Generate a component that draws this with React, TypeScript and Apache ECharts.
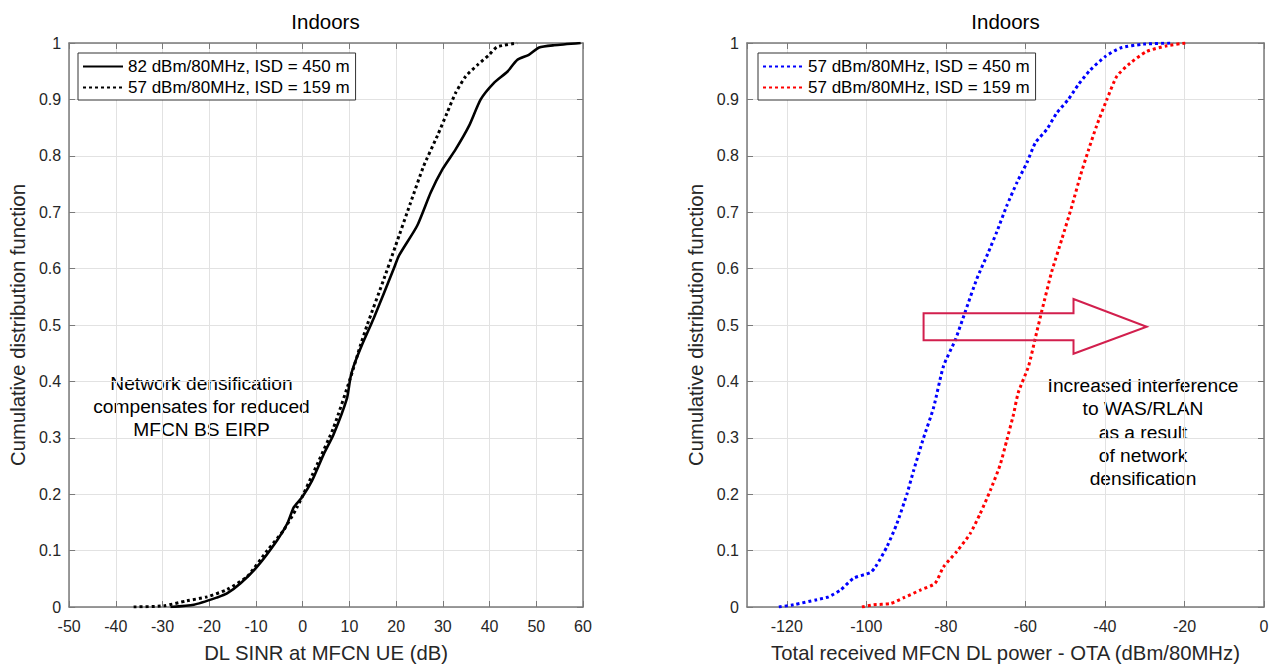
import React, { useEffect, useRef } from "react";
import * as echarts from "echarts";

// ---------- Data ----------
// Left panel: DL SINR at MFCN UE (dB) vs CDF
const sinr82x450X = [-28.3, -23.3, -18.3, -16.2, -13.3, -9.8, -5.5, -3.3, -1.9, -0.1, 2.0, 4.5, 6.6, 9.5, 10.2, 10.9, 12.7, 15.2, 19.5, 20.6, 24.5, 27.4, 29.9, 32.7, 35.6, 38.1, 40.9, 43.8, 45.9, 48.4, 50.6, 53.8, 59.5];
const sinr82x450Cdf = [0, 0.004, 0.017, 0.024, 0.042, 0.071, 0.118, 0.148, 0.177, 0.195, 0.224, 0.271, 0.306, 0.371, 0.406, 0.427, 0.465, 0.512, 0.6, 0.623, 0.676, 0.735, 0.776, 0.811, 0.853, 0.9, 0.929, 0.949, 0.97, 0.979, 0.992, 0.996, 1.0];
const sinr57x159X = [-36.2, -29.8, -24.8, -20.5, -16.2, -11.9, -7.6, -4.1, -1.2, 3.1, 6.6, 10.2, 12.4, 13.8, 17.4, 19.9, 23.1, 25.9, 28.8, 30.9, 32.7, 34.9, 37.4, 39.9, 41.6, 45.9];
const sinr57x159Cdf = [0, 0.002, 0.011, 0.018, 0.031, 0.054, 0.1, 0.136, 0.177, 0.253, 0.318, 0.406, 0.465, 0.5, 0.582, 0.641, 0.717, 0.782, 0.835, 0.876, 0.911, 0.941, 0.961, 0.979, 0.993, 1.0];

// Right panel: Total received MFCN DL power - OTA (dBm/80MHz) vs CDF
const pow450X = [-122, -118.3, -112.4, -109.5, -106.5, -103.2, -99, -97.7, -94.8, -92.3, -89.8, -88.1, -85.6, -83.1, -80.6, -77.6, -75.1, -72.2, -69.3, -67.2, -64.7, -62.1, -59.6, -57.5, -54.6, -52.1, -49.2, -46.7, -43.7, -39.9, -36.2, -30.3, -22.8];
const pow450Cdf = [0, 0.004, 0.013, 0.018, 0.03, 0.051, 0.061, 0.071, 0.107, 0.148, 0.2, 0.242, 0.3, 0.353, 0.427, 0.474, 0.524, 0.582, 0.629, 0.665, 0.711, 0.753, 0.788, 0.823, 0.847, 0.876, 0.9, 0.926, 0.952, 0.976, 0.991, 0.998, 1.0];
const pow159X = [-101.1, -98.2, -94, -90.7, -86.4, -82.7, -80.6, -77.3, -73.9, -71.4, -68.8, -66.3, -64.7, -63.0, -61.8, -59.2, -57.5, -55.9, -53.4, -50.8, -48.3, -46.2, -44.1, -42.1, -39.5, -37.0, -33.7, -29.5, -24.4, -19.8];
const pow159Cdf = [0, 0.004, 0.006, 0.016, 0.03, 0.042, 0.071, 0.098, 0.13, 0.165, 0.207, 0.253, 0.295, 0.341, 0.38, 0.427, 0.477, 0.524, 0.594, 0.653, 0.711, 0.764, 0.811, 0.853, 0.9, 0.941, 0.964, 0.985, 0.995, 1.0];

const leftNames = ["82 dBm/80MHz, ISD = 450 m", "57 dBm/80MHz, ISD = 159 m"];
const rightNames = ["57 dBm/80MHz, ISD = 450 m", "57 dBm/80MHz, ISD = 159 m"];

const titleText = "Indoors";
const yName = "Cumulative distribution function";
const leftXName = "DL SINR at MFCN UE (dB)";
const rightXName = "Total received MFCN DL power - OTA (dBm/80MHz)";
const leftNote = "Network densification\ncompensates for reduced\nMFCN BS EIRP";
const rightNote = "Increased interference\nto WAS/RLAN\nas a result\nof network\ndensification";

// Arrow annotation outline in data units (x, cdf)
const arrowXs = [-85.6, -47.9, -29.5];
const arrowYs = [0.449, 0.473, 0.497, 0.521, 0.546];

// ---------- Styling ----------
const FONT = "'Liberation Sans', Arial, Helvetica, sans-serif";
const TXT = "#262626";
const AXC = "#7a7a7a";
const GRIDC = "#e2e2e2";

const zip = (xs: number[], ys: number[]) => xs.map((x, i) => [x, ys[i]]);

function buildAxes(grid: any, xMin: number, xMax: number, xOpts: any, xName: string) {
  const axLine = { show: true, onZero: false, lineStyle: { color: AXC, width: 1.5 } };
  const tick = { show: true, inside: true, length: 6, lineStyle: { color: AXC, width: 1 } };
  const { axisLabel: xLab, ...xRest } = xOpts;
  return {
    grid,
    xAxis: [
      {
        type: "value",
        min: xMin,
        max: xMax,
        ...xRest,
        position: "bottom",
        name: xName,
        nameLocation: "middle",
        nameGap: 36,
        nameTextStyle: { fontSize: 20.3, color: TXT, fontFamily: FONT },
        axisLine: axLine,
        axisTick: tick,
        axisLabel: { fontSize: 16, color: TXT, margin: 11, fontFamily: FONT, ...(xLab || {}) },
        splitLine: { show: true, lineStyle: { color: GRIDC, width: 1 } },
      },
      {
        type: "value",
        min: xMin,
        max: xMax,
        ...xRest,
        position: "top",
        axisLine: axLine,
        axisTick: tick,
        axisLabel: { show: false },
        splitLine: { show: false },
      },
    ],
    yAxis: [
      {
        type: "value",
        min: 0,
        max: 1,
        interval: 0.1,
        position: "left",
        name: yName,
        nameLocation: "middle",
        nameGap: 39,
        nameTextStyle: { fontSize: 20.3, color: TXT, fontFamily: FONT },
        axisLine: axLine,
        axisTick: tick,
        axisLabel: {
          fontSize: 16,
          color: TXT,
          margin: 8,
          fontFamily: FONT,
          formatter: (v: number) => String(Math.round(v * 10) / 10),
        },
        splitLine: { show: true, lineStyle: { color: GRIDC, width: 1 } },
      },
      {
        type: "value",
        min: 0,
        max: 1,
        interval: 0.1,
        position: "right",
        axisLine: axLine,
        axisTick: tick,
        axisLabel: { show: false },
        splitLine: { show: false },
      },
    ],
  };
}

function legendOf(names: string[], left: number) {
  return {
    orient: "vertical",
    left,
    top: 53,
    data: names,
    itemWidth: 40,
    itemHeight: 14,
    itemGap: 4,
    padding: [5, 6, 4, 4],
    borderColor: "#333",
    borderWidth: 1,
    borderRadius: 0,
    backgroundColor: "#ffffff",
    selectedMode: false,
    itemStyle: { opacity: 0 },
    textStyle: { fontSize: 17, color: "#000", fontFamily: FONT },
  };
}

function lineSeries(name: string, data: number[][], color: string, dotted: boolean) {
  return {
    type: "line",
    name,
    data,
    xAxisIndex: 0,
    yAxisIndex: 0,
    symbol: "none",
    showSymbol: false,
    smooth: 0.2,
    z: 3,
    itemStyle: { color },
    lineStyle: dotted
      ? { color, width: 3, type: [3, 3], cap: "butt" }
      : { color, width: 2.6, type: "solid" },
  };
}

function leftOption() {
  return {
    animation: false,
    backgroundColor: "#ffffff",
    textStyle: { fontFamily: FONT },
    ...buildAxes({ left: 68, top: 43, width: 515, height: 567 }, -50, 60, { interval: 10 }, leftXName),
    legend: legendOf(leftNames, 78),
    graphic: [
      {
        type: "text",
        x: 325.5,
        y: 21,
        style: { text: titleText, fontSize: 20.5, fill: "#000", fontFamily: FONT, align: "center", verticalAlign: "middle" },
      },
      {
        type: "text",
        x: 201.5,
        y: 372,
        style: { text: leftNote, fontSize: 19.2, lineHeight: 23, fill: "#000", fontFamily: FONT, align: "center", verticalAlign: "top" },
      },
    ],
    series: [
      lineSeries(leftNames[0], zip(sinr82x450X, sinr82x450Cdf), "#000000", false),
      lineSeries(leftNames[1], zip(sinr57x159X, sinr57x159Cdf), "#000000", true),
    ],
  };
}

function rightOption() {
  const [ax0, ax1, ax2] = arrowXs;
  const [ay0, ay1, ay2, ay3, ay4] = arrowYs;
  const arrowPts = [
    [ax0, ay3], [ax1, ay3], [ax1, ay4], [ax2, ay2], [ax1, ay0], [ax1, ay1], [ax0, ay1],
  ];
  return {
    animation: false,
    backgroundColor: "#ffffff",
    textStyle: { fontFamily: FONT },
    ...buildAxes(
      { left: 109, top: 43, width: 517, height: 567 },
      -130,
      0,
      { splitNumber: 7, axisLabel: { showMinLabel: false } },
      rightXName
    ),
    legend: legendOf(rightNames, 120),
    graphic: [
      {
        type: "text",
        x: 367.5,
        y: 21,
        style: { text: titleText, fontSize: 20.5, fill: "#000", fontFamily: FONT, align: "center", verticalAlign: "middle" },
      },
      {
        type: "text",
        x: 505,
        y: 374,
        style: { text: rightNote, fontSize: 19.2, lineHeight: 23.2, fill: "#000", fontFamily: FONT, align: "center", verticalAlign: "top" },
      },
    ],
    series: [
      lineSeries(rightNames[0], zip(pow450X, pow450Cdf), "#0000ff", true),
      lineSeries(rightNames[1], zip(pow159X, pow159Cdf), "#ff0000", true),
      {
        type: "custom",
        xAxisIndex: 0,
        yAxisIndex: 0,
        silent: true,
        z: 4,
        data: [[ax0, ay2]],
        renderItem: (_params: any, api: any) => ({
          type: "polygon",
          shape: { points: arrowPts.map((p) => api.coord(p)) },
          style: { fill: "none", stroke: "#d21f4d", lineWidth: 2 },
        }),
      },
    ],
  };
}

function Panel({ left, build }: { left: number; build: () => any }) {
  const ref = useRef<HTMLDivElement>(null);
  useEffect(() => {
    if (!ref.current) return;
    const chart = echarts.init(ref.current, undefined, { renderer: "svg" });
    chart.setOption(build());
    return () => chart.dispose();
  }, [build]);
  return <div ref={ref} style={{ position: "absolute", left, top: 0, width: 638, height: 668 }} />;
}

export default function App() {
  useEffect(() => {
    document.body.style.margin = "0";
  }, []);
  return (
    <div style={{ position: "absolute", left: 0, top: 0, width: 1276, height: 668, background: "#fff", overflow: "hidden" }}>
      <Panel left={0} build={leftOption} />
      <Panel left={638} build={rightOption} />
    </div>
  );
}
